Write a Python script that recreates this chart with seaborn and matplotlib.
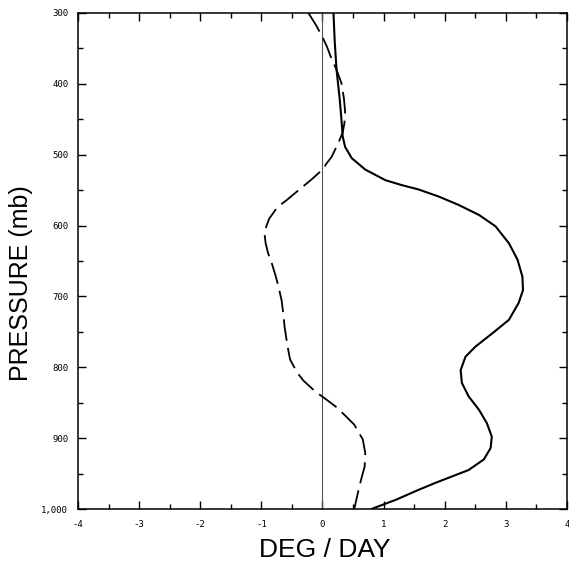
import numpy as np
import pandas as pd
import matplotlib
matplotlib.use("Agg")
import matplotlib.pyplot as plt
from matplotlib.ticker import MultipleLocator, FixedLocator, FixedFormatter
import seaborn as sns

# Heating-rate profiles (deg/day) against pressure (mb)
solid_p = [300, 340, 380, 420, 450, 474, 489, 505, 521, 536, 543, 549, 559, 571,
           585, 601, 625, 648, 672, 691, 709, 733, 752, 771, 785, 804, 822, 841,
           860, 879, 898, 914, 930, 945, 954, 963, 973, 987, 1000]
solid_x = [0.18, 0.20, 0.23, 0.28, 0.31, 0.33, 0.37, 0.48, 0.70, 1.03, 1.30, 1.57,
           1.90, 2.23, 2.56, 2.83, 3.05, 3.19, 3.27, 3.28, 3.21, 3.05, 2.78, 2.50,
           2.34, 2.26, 2.28, 2.39, 2.56, 2.69, 2.77, 2.75, 2.64, 2.39, 2.12, 1.85,
           1.57, 1.20, 0.80]

dashed_p = [300, 318, 334, 347, 365, 380, 399, 420, 439, 455, 469, 485, 503, 512,
            521, 535, 550, 564, 573, 578, 590, 599, 610, 625, 639, 653, 670, 686,
            705, 725, 743, 771, 789, 797, 808, 819, 834, 846, 855, 868, 881, 902,
            921, 940, 959, 977, 1000]
dashed_x = [-0.23, -0.10, 0.0, 0.07, 0.15, 0.23, 0.31, 0.35, 0.37, 0.36, 0.33, 0.25,
            0.15, 0.07, 0.0, -0.18, -0.39, -0.585, -0.72, -0.77, -0.87, -0.91, -0.95,
            -0.93, -0.89, -0.83, -0.77, -0.72, -0.67, -0.64, -0.62, -0.57, -0.53,
            -0.48, -0.41, -0.31, -0.12, 0.07, 0.21, 0.37, 0.52, 0.66, 0.70, 0.69,
            0.63, 0.58, 0.52]

x_ticks = [-4, -3, -2, -1, 0, 1, 2, 3, 4]
x_tick_labels = ["-4", "-3", "-2", "-1", "0", "1", "2", "3", "4"]
p_ticks = [300, 400, 500, 600, 700, 800, 900, 1000]
p_tick_labels = ["300", "400", "500", "600", "700", "800", "900", "1,000"]

sns.set_style("ticks")
plt.rcParams["font.family"] = ["Liberation Sans", "DejaVu Sans"]
plt.rcParams["text.color"] = "black"
plt.rcParams["axes.labelcolor"] = "black"
plt.rcParams["xtick.color"] = "black"
plt.rcParams["ytick.color"] = "black"

fig = plt.figure(figsize=(5.69, 5.64), dpi=100)
ax = fig.add_axes([0.137, 0.0975, 0.8595, 0.8795])

solid_df = pd.DataFrame({"deg": solid_x, "p": solid_p})
dashed_df = pd.DataFrame({"deg": dashed_x, "p": dashed_p})

# zero reference line
ax.axvline(0, color="#555555", lw=0.8, zorder=1)

sns.lineplot(data=solid_df, x="deg", y="p", sort=False, estimator=None,
             color="black", lw=1.5, ax=ax)
sns.lineplot(data=dashed_df, x="deg", y="p", sort=False, estimator=None,
             color="black", lw=1.3, ax=ax)
ax.lines[-1].set_dashes([12, 4])
for ln in ax.lines[1:]:
    ln.set_solid_joinstyle("round")
    ln.set_dash_joinstyle("round")

ax.set_xlim(-4, 4)
ax.set_ylim(1000, 300)

ax.xaxis.set_major_locator(FixedLocator(x_ticks))
ax.xaxis.set_major_formatter(FixedFormatter(x_tick_labels))
ax.xaxis.set_minor_locator(MultipleLocator(0.5))
ax.yaxis.set_major_locator(FixedLocator(p_ticks))
ax.yaxis.set_major_formatter(FixedFormatter(p_tick_labels))
ax.yaxis.set_minor_locator(MultipleLocator(50))

ax.tick_params(which="both", direction="in", top=True, right=True,
               color="black", width=1.0)
ax.tick_params(which="major", length=6)
ax.tick_params(which="minor", length=3.5)
ax.tick_params(axis="x", which="major", labelsize=6.5, pad=8)
ax.tick_params(axis="y", which="major", labelsize=6.5, pad=7)
for lab in ax.get_xticklabels() + ax.get_yticklabels():
    lab.set_family(["DejaVu Sans Mono", "DejaVu Sans"])
    lab.set_color("black")

for side in ax.spines.values():
    side.set_color("black")
    side.set_linewidth(1.1)

ax.set_xlabel("DEG / DAY", fontsize=19, color="black")
ax.set_ylabel("PRESSURE (mb)", fontsize=18, color="black")
ax.xaxis.set_label_coords(0.505, -0.083)
ax.yaxis.set_label_coords(-0.117, 0.456)
ax.yaxis.label.set_va("center")
ax.xaxis.label.set_va("center")

fig.savefig("out.png", dpi=100, facecolor="white")
